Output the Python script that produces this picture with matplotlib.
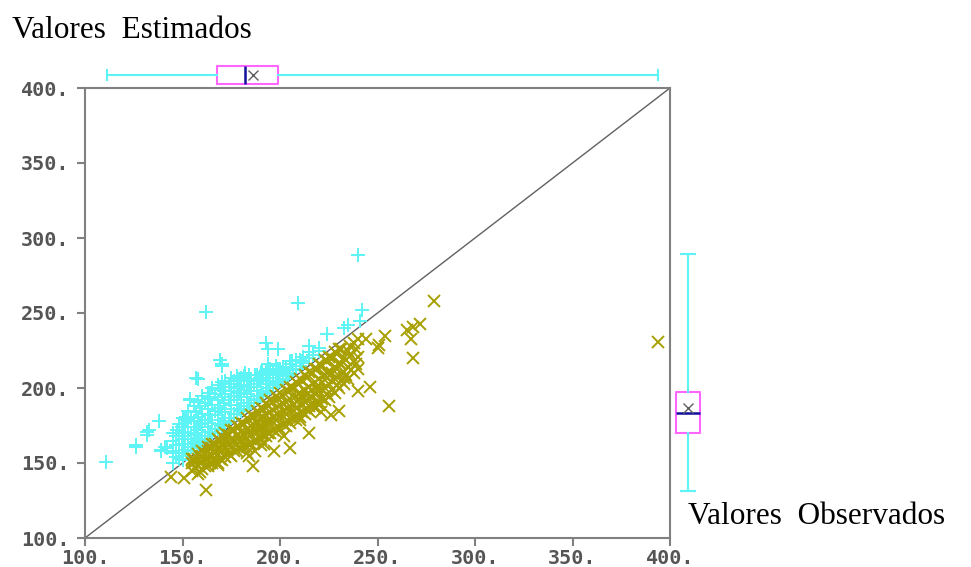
import matplotlib.pyplot as plt
import numpy as np

# observed (x) vs estimated (y); "+" points sit above the 1:1 line, "x" points below it
plus_obs = [111, 126, 132, 133, 138, 139, 141, 145, 147, 150, 151, 152, 154, 155, 158,
            162, 163, 164, 169, 170, 179, 182, 187, 190, 193, 194, 194, 199, 199, 206,
            209, 211, 215, 224, 233, 235, 240, 241, 242, 154, 152, 132, 126, 139, 142,
            145, 205, 210, 200, 191, 182, 170, 157,
            145, 145, 145, 145, 148, 148, 148, 148, 150, 150, 150, 150, 153, 153, 153, 153,
            156, 156, 156, 156, 158, 158, 158, 158, 160, 160, 160, 160, 163, 163, 163, 163,
            165, 165, 165, 165, 168, 168, 168, 168, 170, 170, 170, 170, 172, 172, 172, 172,
            175, 175, 175, 175, 178, 178, 178, 178, 180, 180, 180, 180, 183, 183, 183,
            185, 185, 185, 188, 188, 188, 190, 190, 190, 193, 193, 193, 195, 195, 195,
            198, 198, 198, 200, 200, 203, 203, 205, 205, 208, 208, 212, 212, 215, 215,
            220, 220,
            146.5, 146.5, 146.5, 149.5, 149.5, 149.5, 151.5, 151.5, 151.5, 154.5, 154.5, 154.5,
            157, 157, 157, 159, 159, 159, 161.5, 161.5, 161.5, 164, 164, 164,
            166.5, 166.5, 166.5, 169, 169, 169, 171.5, 171.5, 171.5, 174, 174, 174,
            176.5, 176.5, 176.5, 179, 179, 179, 181.5, 181.5, 181.5, 184, 184, 184,
            186.5, 186.5, 189, 189, 191.5, 191.5, 194, 194, 196.5, 196.5, 199, 199,
            201.5, 201.5, 204, 206.5, 210, 217]
plus_est = [151, 161, 169, 172, 178, 159, 161, 158, 172, 152, 180, 179, 192, 163, 206,
            251, 194, 197, 219, 216, 201, 210, 209, 211, 230, 226, 216, 226, 211, 218,
            257, 218, 228, 236, 240, 242, 289, 245, 252, 193, 181, 171, 162, 158, 160,
            157, 218, 219, 213, 211, 210, 215, 207,
            150, 158, 165, 170, 153, 162, 170, 176, 155, 163, 171, 180, 158, 166, 174, 185,
            161, 169, 178, 188, 163, 172, 181, 191, 165, 174, 183, 195, 168, 177, 186, 197,
            170, 179, 189, 200, 173, 182, 192, 202, 175, 184, 194, 204, 177, 186, 196, 205,
            180, 189, 198, 207, 183, 192, 200, 208, 185, 194, 202, 207, 188, 196, 205,
            190, 198, 206, 193, 201, 209, 195, 203, 210, 198, 205, 212, 200, 207, 213,
            203, 210, 215, 205, 212, 208, 214, 210, 216, 213, 219, 217, 221, 220, 224,
            225, 227,
            154, 162, 168, 157, 166, 174, 159, 168, 177, 161, 170, 180,
            164, 174, 184, 166, 176, 188, 168, 179, 190, 171, 182, 193,
            173, 185, 196, 176, 187, 199, 178, 190, 201, 180, 192, 203,
            183, 195, 205, 186, 197, 206, 188, 199, 208, 190, 201, 209,
            192, 203, 195, 206, 197, 207, 200, 209, 202, 211, 204, 213,
            206, 214, 209, 212, 215, 222]

cross_obs = [394, 162, 144, 151, 279, 272, 268, 265, 267, 268, 254, 251, 244, 236, 233,
             246, 256, 226, 221, 219, 224, 220, 215, 210, 202, 184, 190, 156, 168, 250,
             205, 215, 230, 240, 197, 186,
             155, 155, 155, 158, 158, 158, 158, 160, 160, 160, 160, 163, 163, 163, 163,
             165, 165, 165, 165, 168, 168, 168, 168, 170, 170, 170, 170, 172, 172, 172, 172,
             175, 175, 175, 175, 178, 178, 178, 178, 180, 180, 180, 180, 183, 183, 183, 183,
             185, 185, 185, 185, 188, 188, 188, 188, 190, 190, 190, 190, 193, 193, 193, 193,
             195, 195, 195, 195, 198, 198, 198, 198, 200, 200, 200, 200, 203, 203, 203, 203,
             205, 205, 205, 205, 208, 208, 208, 208, 210, 210, 210, 210, 213, 213, 213, 213,
             215, 215, 215, 215, 218, 218, 218, 218, 220, 220, 220, 220, 223, 223, 223, 223,
             225, 225, 225, 225, 228, 228, 228, 228, 230, 230, 230, 230, 233, 233, 233,
             235, 235, 235, 238, 238, 238, 240, 240, 240,
             156.5, 156.5, 159, 159, 159, 161.5, 161.5, 161.5, 164, 164, 164,
             166.5, 166.5, 166.5, 169, 169, 169, 171.5, 171.5, 171.5, 174, 174, 174,
             176.5, 176.5, 176.5, 179, 179, 179, 181.5, 181.5, 181.5, 184, 184, 184,
             186.5, 186.5, 186.5, 189, 189, 189, 191.5, 191.5, 191.5, 194, 194, 194,
             196.5, 196.5, 196.5, 199, 199, 199, 201.5, 201.5, 201.5, 204, 204, 204,
             206.5, 206.5, 206.5, 209, 209, 209, 211.5, 211.5, 211.5, 214, 214, 214,
             216.5, 216.5, 216.5, 219, 219, 219, 221.5, 221.5, 221.5, 224, 224, 224,
             226.5, 226.5, 226.5, 229, 229, 229, 231.5, 231.5, 231.5, 234, 234,
             236.5, 236.5, 239, 239, 183, 187, 192]
cross_est = [231, 132, 141, 140, 258, 243, 241, 239, 233, 220, 235, 229, 233, 228, 207,
             201, 188, 182, 184, 199, 210, 191, 188, 179, 168, 155, 162, 153, 149, 227,
             160, 170, 185, 198, 158, 148,
             145, 150, 153, 143, 148, 153, 156, 146, 151, 155, 158, 148, 153, 158, 161,
             150, 155, 160, 163, 150, 156, 161, 166, 152, 158, 163, 168, 154, 160, 165, 170,
             155, 161, 166, 172, 158, 163, 169, 175, 160, 165, 171, 177, 161, 167, 173, 180,
             163, 169, 175, 182, 165, 171, 177, 185, 166, 173, 180, 187, 168, 175, 182, 190,
             170, 177, 184, 192, 171, 179, 187, 195, 173, 181, 189, 197, 175, 183, 191, 199,
             177, 185, 193, 201, 179, 187, 195, 204, 181, 189, 197, 206, 183, 191, 199, 209,
             185, 193, 201, 211, 187, 196, 204, 213, 189, 198, 206, 216, 192, 200, 209, 219,
             194, 203, 211, 221, 197, 206, 214, 224, 200, 208, 217, 226, 203, 211, 220,
             206, 214, 225, 210, 218, 230, 213, 221, 233,
             147, 151, 144, 150, 154, 148, 153, 157, 150, 156, 160,
             151, 157, 163, 153, 160, 165, 155, 162, 167, 156, 163, 169,
             158, 165, 172, 160, 167, 174, 161, 169, 176, 163, 171, 179,
             165, 173, 181, 167, 175, 183, 169, 177, 186, 170, 179, 188,
             172, 181, 191, 174, 183, 193, 176, 185, 195, 178, 187, 198,
             180, 189, 200, 182, 192, 203, 184, 194, 205, 186, 196, 207,
             189, 199, 210, 191, 201, 213, 193, 204, 215, 196, 207, 218,
             199, 210, 220, 202, 213, 223, 205, 216, 226, 209, 219,
             212, 222, 216, 226, 157, 158, 163]

# summary boxes: whisker low, q1, median, q3, whisker high, mean
obs_box = [111.3, 167.7, 182.2, 199.0, 393.8, 186.3]
est_box = [131.5, 170.2, 183.1, 197.5, 289.3, 186.5]

ticks = [100, 150, 200, 250, 300, 350, 400]
tick_labels = ['100.', '150.', '200.', '250.', '300.', '350.', '400.']

CYAN = '#5CF4F4'
OLIVE = '#A89F00'
GRAY = '#808080'
MAGENTA = '#FF66FF'
NAVY = '#10109A'

W, H = 971, 567
fig = plt.figure(figsize=(W / 100, H / 100), dpi=100)
ax = fig.add_axes([85 / W, 1 - 538 / H, 585 / W, 450 / H])

ax.plot([100, 400], [100, 400], color='#606060', lw=1, zorder=1)
ax.plot(plus_obs, plus_est, ls='none', marker='+', ms=10, mew=1.4, color=CYAN, zorder=2)
ax.plot(cross_obs, cross_est, ls='none', marker='x', ms=8, mew=1.4, color=OLIVE, zorder=3)

ax.set_xlim(100, 400)
ax.set_ylim(100, 400)
ax.set_xticks(ticks, tick_labels)
ax.set_yticks(ticks, tick_labels)
for sp in ax.spines.values():
    sp.set_color(GRAY)
    sp.set_linewidth(1.5)
ax.tick_params(direction='out', length=6, width=1.5, color=GRAY,
               labelcolor='#555555', labelsize=14.5)
ax.tick_params(axis='y', pad=5)
ax.tick_params(axis='x', pad=2)
for lab in ax.get_xticklabels() + ax.get_yticklabels():
    lab.set_family('DejaVu Sans Mono')
    lab.set_fontweight('bold')


def box_stats(v):
    return [dict(whislo=v[0], q1=v[1], med=v[2], q3=v[3], whishi=v[4], mean=v[5],
                 fliers=[])]


box_style = dict(
    showmeans=True, showfliers=False, manage_ticks=False,
    boxprops=dict(color=MAGENTA, lw=1.5),
    whiskerprops=dict(color=CYAN, lw=1.5),
    capprops=dict(color=CYAN, lw=1.5),
    medianprops=dict(color=NAVY, lw=1.8),
    meanprops=dict(marker='x', markeredgecolor='#606060', ms=7, mew=1),
)

# box of observed values above the plot
ax_top = fig.add_axes([85 / W, 1 - 90 / H, 585 / W, 30 / H], sharex=ax)
ax_top.bxp(box_stats(obs_box), positions=[0.5], widths=0.6, capwidths=0.36,
           orientation='horizontal', **box_style)
ax_top.set_ylim(0, 1)
ax_top.axis('off')

# box of estimated values to the right
ax_right = fig.add_axes([672 / W, 1 - 538 / H, 32 / W, 450 / H], sharey=ax)
ax_right.bxp(box_stats(est_box), positions=[0.5], widths=0.72, capwidths=0.42,
             orientation='vertical', **box_style)
ax_right.set_xlim(0, 1)
ax_right.axis('off')

fig.text(12 / W, 1 - 31 / H, 'Valores  Estimados', family='Liberation Serif',
         fontsize=22.5, va='center', ha='left')
fig.text(688 / W, 1 - 517 / H, 'Valores  Observados', family='Liberation Serif',
         fontsize=22.5, va='center', ha='left')

fig.savefig('out.png', dpi=100)
